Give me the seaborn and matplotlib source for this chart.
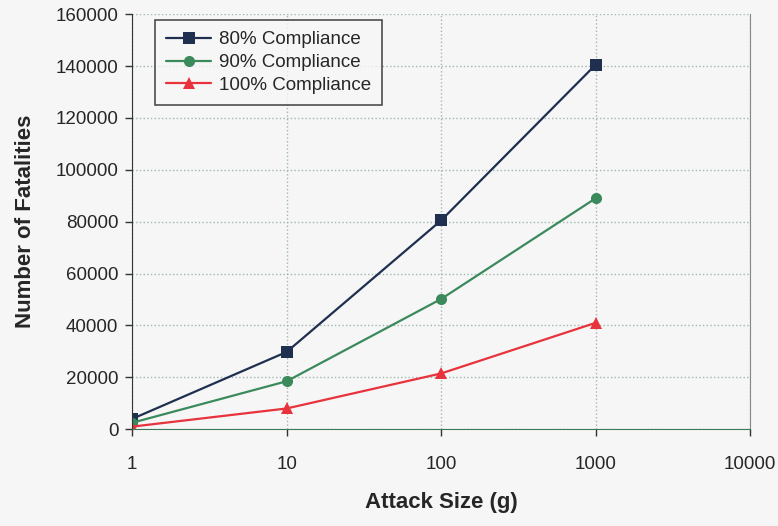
import pandas as pd
import seaborn as sns
import matplotlib.pyplot as plt

# values
attack_size = [1, 10, 100, 1000]
fat_80 = [4000, 29800, 80500, 140500]
fat_90 = [2500, 18500, 50200, 89000]
fat_100 = [1000, 8000, 21500, 41000]
series_names = ['80% Compliance', '90% Compliance', '100% Compliance']

df = pd.DataFrame({
    'size': attack_size * 3,
    'fatalities': fat_80 + fat_90 + fat_100,
    'series': [n for n in series_names for _ in attack_size],
})

sns.set_style('white')
plt.rcParams['font.family'] = ['Liberation Sans', 'DejaVu Sans']

fig = plt.figure(figsize=(7.78, 5.26), dpi=100, facecolor='#f6f6f6')
ax = fig.add_axes([0.170, 0.184, 0.794, 0.789])
ax.set_facecolor('#f6f6f6')

palette = {'80% Compliance': '#1e2f4f', '90% Compliance': '#3b8a5c', '100% Compliance': '#e8323c'}
markers = {'80% Compliance': 's', '90% Compliance': 'o', '100% Compliance': '^'}

sns.lineplot(data=df, x='size', y='fatalities', hue='series', style='series',
             palette=palette, markers=markers, dashes=False, markersize=8,
             markeredgewidth=0, linewidth=1.6, ax=ax)

ax.set_xscale('log')
ax.set_xlim(1, 10000)
ax.set_ylim(0, 160000)
ax.set_xticks([1, 10, 100, 1000, 10000])
ax.set_xticklabels(['1', '10', '100', '1000', '10000'])
ax.minorticks_off()
ax.set_yticks(range(0, 160001, 20000))
ax.set_yticklabels([str(v) for v in range(0, 160001, 20000)])

ax.grid(True, linestyle=':', color='#9fb8b0', linewidth=1)
ax.spines['top'].set_visible(False)
ax.spines['left'].set_color('#333333')
ax.spines['bottom'].set_color('#3c7a5a')
ax.spines['right'].set_color('#888888')
ax.tick_params(axis='both', which='major', direction='out', length=5, width=1,
               color='#333333', labelsize=13.5, pad=5, bottom=True, left=True)
ax.tick_params(axis='x', pad=14)

ax.set_xlabel('Attack Size (g)', fontsize=16, fontweight='bold', labelpad=14)
ax.set_ylabel('Number of Fatalities', fontsize=16, fontweight='bold', labelpad=14)

leg = ax.legend(loc='upper left', bbox_to_anchor=(0.037, 0.986), borderaxespad=0,
                fontsize=13.5, frameon=True, fancybox=False, edgecolor='#222222',
                facecolor='#f6f6f6', handlelength=2.4, borderpad=0.6,
                labelspacing=0.3, handletextpad=0.4)
leg.get_frame().set_linewidth(1.2)

plt.savefig('out.png', dpi=100, facecolor=fig.get_facecolor())
